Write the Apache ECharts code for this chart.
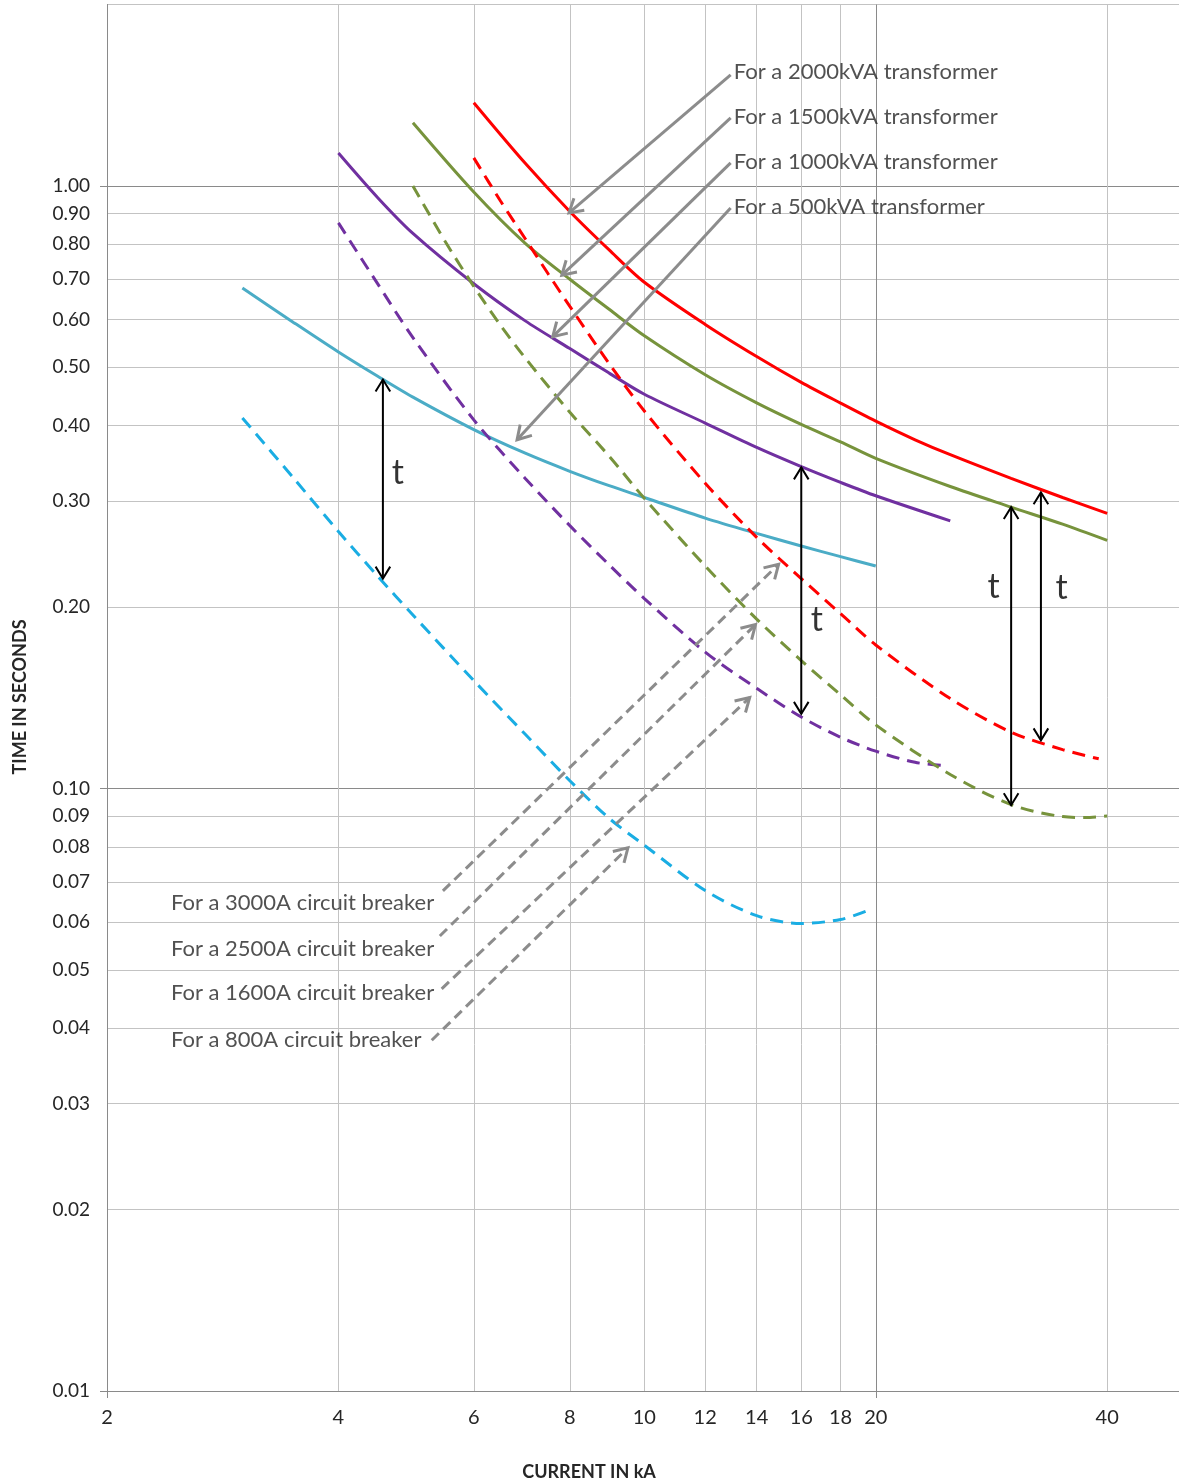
<!DOCTYPE html>
<html>
<head>
<meta charset="utf-8">
<script src="https://cdn.jsdelivr.net/npm/echarts@6/dist/echarts.min.js"></script>
<style>
html,body{margin:0;padding:0;background:#ffffff;}
#chart{width:1179px;height:1483px;}
</style>
</head>
<body>
<div id="chart"></div>
<script>
// ---------- axes ----------
const X_MIN = 2, X_MAX = 49.6;
const Y_MIN = 0.01, Y_MAX = 2;
const xGridValues = [2, 4, 6, 8, 10, 12, 14, 16, 18, 20, 40];
const xTickLabels = [2, 4, 6, 8, 10, 12, 14, 16, 18, 20, 40];
const xMajorValues = [2, 20];
const yGridValues = [0.01, 0.02, 0.03, 0.04, 0.05, 0.06, 0.07, 0.08, 0.09,
  0.1, 0.2, 0.3, 0.4, 0.5, 0.6, 0.7, 0.8, 0.9, 1.0, 2.0];
const yTickLabels = ['0.01', '0.02', '0.03', '0.04', '0.05', '0.06', '0.07', '0.08', '0.09',
  '0.10', '0.20', '0.30', '0.40', '0.50', '0.60', '0.70', '0.80', '0.90', '1.00'];
const yMajorValues = [0.01, 0.1, 1];

// ---------- transformer curves (solid) ----------
const tx2000X = [6, 7, 8, 9, 10, 12, 14, 16, 18, 20, 22.5, 25, 30, 35, 40];
const tx2000Y = [1.374, 1.09, 0.907, 0.783, 0.692, 0.589, 0.521, 0.472, 0.436, 0.407, 0.379, 0.358, 0.327, 0.304, 0.286];
const tx1500X = [5, 6, 7, 8, 9, 10, 12, 14, 16, 18, 20, 25, 30, 35, 40];
const tx1500Y = [1.273, 0.977, 0.803, 0.700, 0.624, 0.564, 0.486, 0.4365, 0.402, 0.376, 0.353, 0.317, 0.293, 0.2745, 0.258];
const tx1000X = [4, 4.5, 5, 6, 7, 8, 9, 10, 12, 14, 16, 18, 20, 25];
const tx1000Y = [1.134, 0.956, 0.834, 0.688, 0.597, 0.537, 0.489, 0.451, 0.404, 0.368, 0.342, 0.322, 0.306, 0.278];
const tx500X = [3, 3.5, 4, 4.5, 5, 6, 7, 8, 9, 10, 12, 14, 16, 18, 20];
const tx500Y = [0.677, 0.593, 0.530, 0.483, 0.446, 0.394, 0.360, 0.336, 0.318, 0.304, 0.281, 0.265, 0.2525, 0.2425, 0.234];

// ---------- circuit breaker curves (dashed) ----------
const cb3000X = [6, 6.5, 7, 7.5, 8, 9, 10, 12, 14, 16, 18, 20, 25, 30, 35, 39];
const cb3000Y = [1.113, 0.944, 0.817, 0.714, 0.631, 0.507, 0.423, 0.321, 0.261, 0.223, 0.195, 0.173, 0.141, 0.124, 0.116, 0.112];
const cb2500X = [5, 5.5, 6, 6.5, 7, 8, 9, 10, 12, 14, 16, 18, 20, 25, 30, 35, 37.5, 40];
const cb2500Y = [1.0, 0.811, 0.681, 0.587, 0.518, 0.421, 0.356, 0.303, 0.234, 0.191, 0.163, 0.143, 0.1275, 0.1055, 0.094, 0.0898, 0.0895, 0.09];
const cb1600X = [4, 4.5, 5, 6, 7, 8, 9, 10, 12, 14, 16, 18, 20, 22.5, 24.4];
const cb1600Y = [0.868, 0.6875, 0.56, 0.409, 0.327, 0.273, 0.235, 0.2066, 0.1684, 0.1466, 0.1314, 0.1216, 0.1153, 0.1105, 0.1092];
const cb800X = [3, 3.5, 4, 4.5, 5, 6, 7, 8, 9, 10, 12, 14, 16, 18, 19.5];
const cb800Y = [0.412, 0.327, 0.267, 0.225, 0.194, 0.151, 0.123, 0.103, 0.0892, 0.0805, 0.0677, 0.0615, 0.0597, 0.0606, 0.0627];

// ---------- annotation arrows (data coordinates: [kA, s]) ----------
const transformerArrowFrom = [[12.95, 1.529], [12.95, 1.297], [12.95, 1.092], [12.95, 0.919]];
const transformerArrowTo = [[7.98, 0.902], [7.81, 0.711], [7.60, 0.562], [6.83, 0.379]];
const breakerArrowFrom = [[5.47, 0.0676], [5.42, 0.0569], [5.45, 0.0465], [5.29, 0.0382]];
const breakerArrowTo = [[14.95, 0.2355], [13.95, 0.187], [13.71, 0.1415], [9.52, 0.0797]];
const tArrowX = [4.57, 16, 30, 32.8];
const tArrowTop = [0.477, 0.341, 0.293, 0.31];
const tArrowBottom = [0.223, 0.133, 0.0938, 0.1202];

// ---------- annotation texts ----------
const transformerLabels = ['For a 2000kVA transformer', 'For a 1500kVA transformer',
  'For a 1000kVA transformer', 'For a 500kVA transformer'];
const transformerLabelAt = [[13.07, 1.546], [13.07, 1.302], [13.07, 1.096], [13.07, 0.923]];
const breakerLabels = ['For a 3000A circuit breaker', 'For a 2500A circuit breaker',
  'For a 1600A circuit breaker', 'For a 800A circuit breaker'];
const breakerLabelAt = [[2.422, 0.0645], [2.422, 0.0542], [2.422, 0.0458], [2.422, 0.0382]];
const tLabelAt = [[4.78, 0.334], [16.76, 0.19], [28.47, 0.216], [34.9, 0.215]];

const xTitle = 'CURRENT IN kA';
const yTitle = 'TIME IN SECONDS';

// ---------- build ----------
const L = v => Math.log10(v);
const pts = (xs, ys) => xs.map((x, i) => [L(x), L(ys[i])]);
const FONT = 'Lato, "Open Sans", sans-serif';
const TEXT = '#262626';
const GRID_LIGHT = '#c3c3c3';
const GRID_DARK = '#8a8a8a';

function curve(name, xs, ys, color, dashed) {
  return {
    type: 'line', name, xAxisIndex: 0, yAxisIndex: 0,
    data: pts(xs, ys), smooth: 0.3, showSymbol: false, symbol: 'none',
    silent: true, animation: false, clip: true,
    lineStyle: { color, width: 3, type: dashed ? [13, 8] : 'solid', cap: 'butt' },
    z: dashed ? 4 : 3
  };
}

function arrows(name, from, to, color, width, dash, twoHeads, headLen, headAngle) {
  return {
    type: 'custom', name, xAxisIndex: 0, yAxisIndex: 0, silent: true,
    animation: false, z: 6, clip: false,
    data: from.map((f, i) => [L(f[0]), L(f[1]), L(to[i][0]), L(to[i][1])]),
    encode: { x: [0, 2], y: [1, 3] },
    renderItem: function (params, api) {
      const a = api.coord([api.value(0), api.value(1)]);
      const b = api.coord([api.value(2), api.value(3)]);
      const head = (tip, tail) => {
        const ang = Math.atan2(tail[1] - tip[1], tail[0] - tip[0]);
        return {
          type: 'polyline',
          shape: { points: [
            [tip[0] + headLen * Math.cos(ang + headAngle), tip[1] + headLen * Math.sin(ang + headAngle)],
            [tip[0], tip[1]],
            [tip[0] + headLen * Math.cos(ang - headAngle), tip[1] + headLen * Math.sin(ang - headAngle)]
          ] },
          style: { stroke: color, lineWidth: width, fill: 'none', lineJoin: 'miter', lineCap: 'butt' }
        };
      };
      const children = [{
        type: 'line', shape: { x1: a[0], y1: a[1], x2: b[0], y2: b[1] },
        style: { stroke: color, lineWidth: width, lineDash: dash, lineCap: 'butt' }
      }, head(b, a)];
      if (twoHeads) children.push(head(a, b));
      return { type: 'group', children };
    }
  };
}

function labels(name, texts, at, fontSize, position, color) {
  return {
    type: 'scatter', name, xAxisIndex: 0, yAxisIndex: 0, silent: true,
    animation: false, symbolSize: 0, z: 7,
    itemStyle: { color: 'transparent' },
    data: texts.map((t, i) => ({ name: t, value: [L(at[i][0]), L(at[i][1])] })),
    label: {
      show: true, position, distance: 0, formatter: p => p.name,
      fontFamily: FONT, fontSize, color
    }
  };
}

const series = [
  curve('500kVA transformer', tx500X, tx500Y, '#4BACC6', false),
  curve('1000kVA transformer', tx1000X, tx1000Y, '#7030A0', false),
  curve('1500kVA transformer', tx1500X, tx1500Y, '#77933C', false),
  curve('2000kVA transformer', tx2000X, tx2000Y, '#FF0000', false),
  curve('800A circuit breaker', cb800X, cb800Y, '#1AADE3', true),
  curve('1600A circuit breaker', cb1600X, cb1600Y, '#7030A0', true),
  curve('2500A circuit breaker', cb2500X, cb2500Y, '#77933C', true),
  curve('3000A circuit breaker', cb3000X, cb3000Y, '#FF0000', true),
  arrows('transformer arrows', transformerArrowFrom, transformerArrowTo, '#8c8c8c', 3, null, false, 15.5, 0.54),
  arrows('breaker arrows', breakerArrowFrom, breakerArrowTo, '#8c8c8c', 3, [10, 6], false, 15.5, 0.54),
  arrows('t arrows', tArrowX.map((x, i) => [x, tArrowBottom[i]]), tArrowX.map((x, i) => [x, tArrowTop[i]]),
    '#000000', 2, null, true, 14, 0.55),
  labels('transformer labels', transformerLabels, transformerLabelAt, 22, 'right', TEXT),
  labels('breaker labels', breakerLabels, breakerLabelAt, 22, 'right', TEXT),
  labels('t labels', tLabelAt.map(() => 't'), tLabelAt, 34, 'inside', '#000000')
];

const chart = echarts.init(document.getElementById('chart'), null, { renderer: 'canvas' });
chart.setOption({
  backgroundColor: '#ffffff',
  animation: false,
  grid: { left: 107, right: 0, top: 4.5, bottom: 92, outerBoundsMode: 'none', containLabel: false },
  xAxis: [
    {
      type: 'value', min: L(X_MIN), max: L(X_MAX), position: 'bottom',
      axisLine: { show: true, onZero: false, lineStyle: { color: GRID_DARK, width: 1 } },
      axisTick: { show: false, customValues: xGridValues.map(L) },
      axisLabel: {
        show: true, customValues: xTickLabels.map(L), margin: 17,
        formatter: v => String(Math.round(Math.pow(10, v))),
        fontFamily: FONT, fontSize: 20, color: TEXT
      },
      splitLine: { show: true, lineStyle: { color: GRID_LIGHT, width: 1 } }
    },
    {
      type: 'value', min: L(X_MIN), max: L(X_MAX), position: 'bottom',
      axisLine: { show: false, onZero: false },
      axisTick: { show: true, inside: false, length: 7, customValues: xMajorValues.map(L),
        lineStyle: { color: GRID_DARK, width: 1 } },
      axisLabel: { show: false },
      splitLine: { show: true, lineStyle: { color: GRID_DARK, width: 1 } }
    }
  ],
  yAxis: [
    {
      type: 'value', min: L(Y_MIN), max: L(Y_MAX), position: 'left',
      axisLine: { show: true, onZero: false, lineStyle: { color: GRID_DARK, width: 1 } },
      axisTick: { show: false, customValues: yGridValues.map(L) },
      axisLabel: {
        show: true, customValues: yTickLabels.map(s => L(parseFloat(s))), margin: 17,
        formatter: v => Math.pow(10, v).toFixed(2),
        fontFamily: FONT, fontSize: 19, color: TEXT
      },
      splitLine: { show: true, lineStyle: { color: GRID_LIGHT, width: 1 } }
    },
    {
      type: 'value', min: L(Y_MIN), max: L(Y_MAX), position: 'left',
      axisLine: { show: false, onZero: false },
      axisTick: { show: true, inside: false, length: 7, customValues: yMajorValues.map(L),
        lineStyle: { color: GRID_DARK, width: 1 } },
      axisLabel: { show: false },
      splitLine: { show: true, lineStyle: { color: GRID_DARK, width: 1 } }
    }
  ],
  graphic: [
    { type: 'text', x: 589, y: 1472, silent: true,
      style: { text: xTitle, font: 'bold 18px ' + FONT, fill: TEXT, align: 'center', verticalAlign: 'middle' } },
    { type: 'text', x: 20, y: 697, rotation: Math.PI / 2, silent: true,
      style: { text: yTitle, font: 'bold 18px ' + FONT, fill: TEXT, align: 'center', verticalAlign: 'middle' } }
  ],
  series
});
</script>
</body>
</html>
